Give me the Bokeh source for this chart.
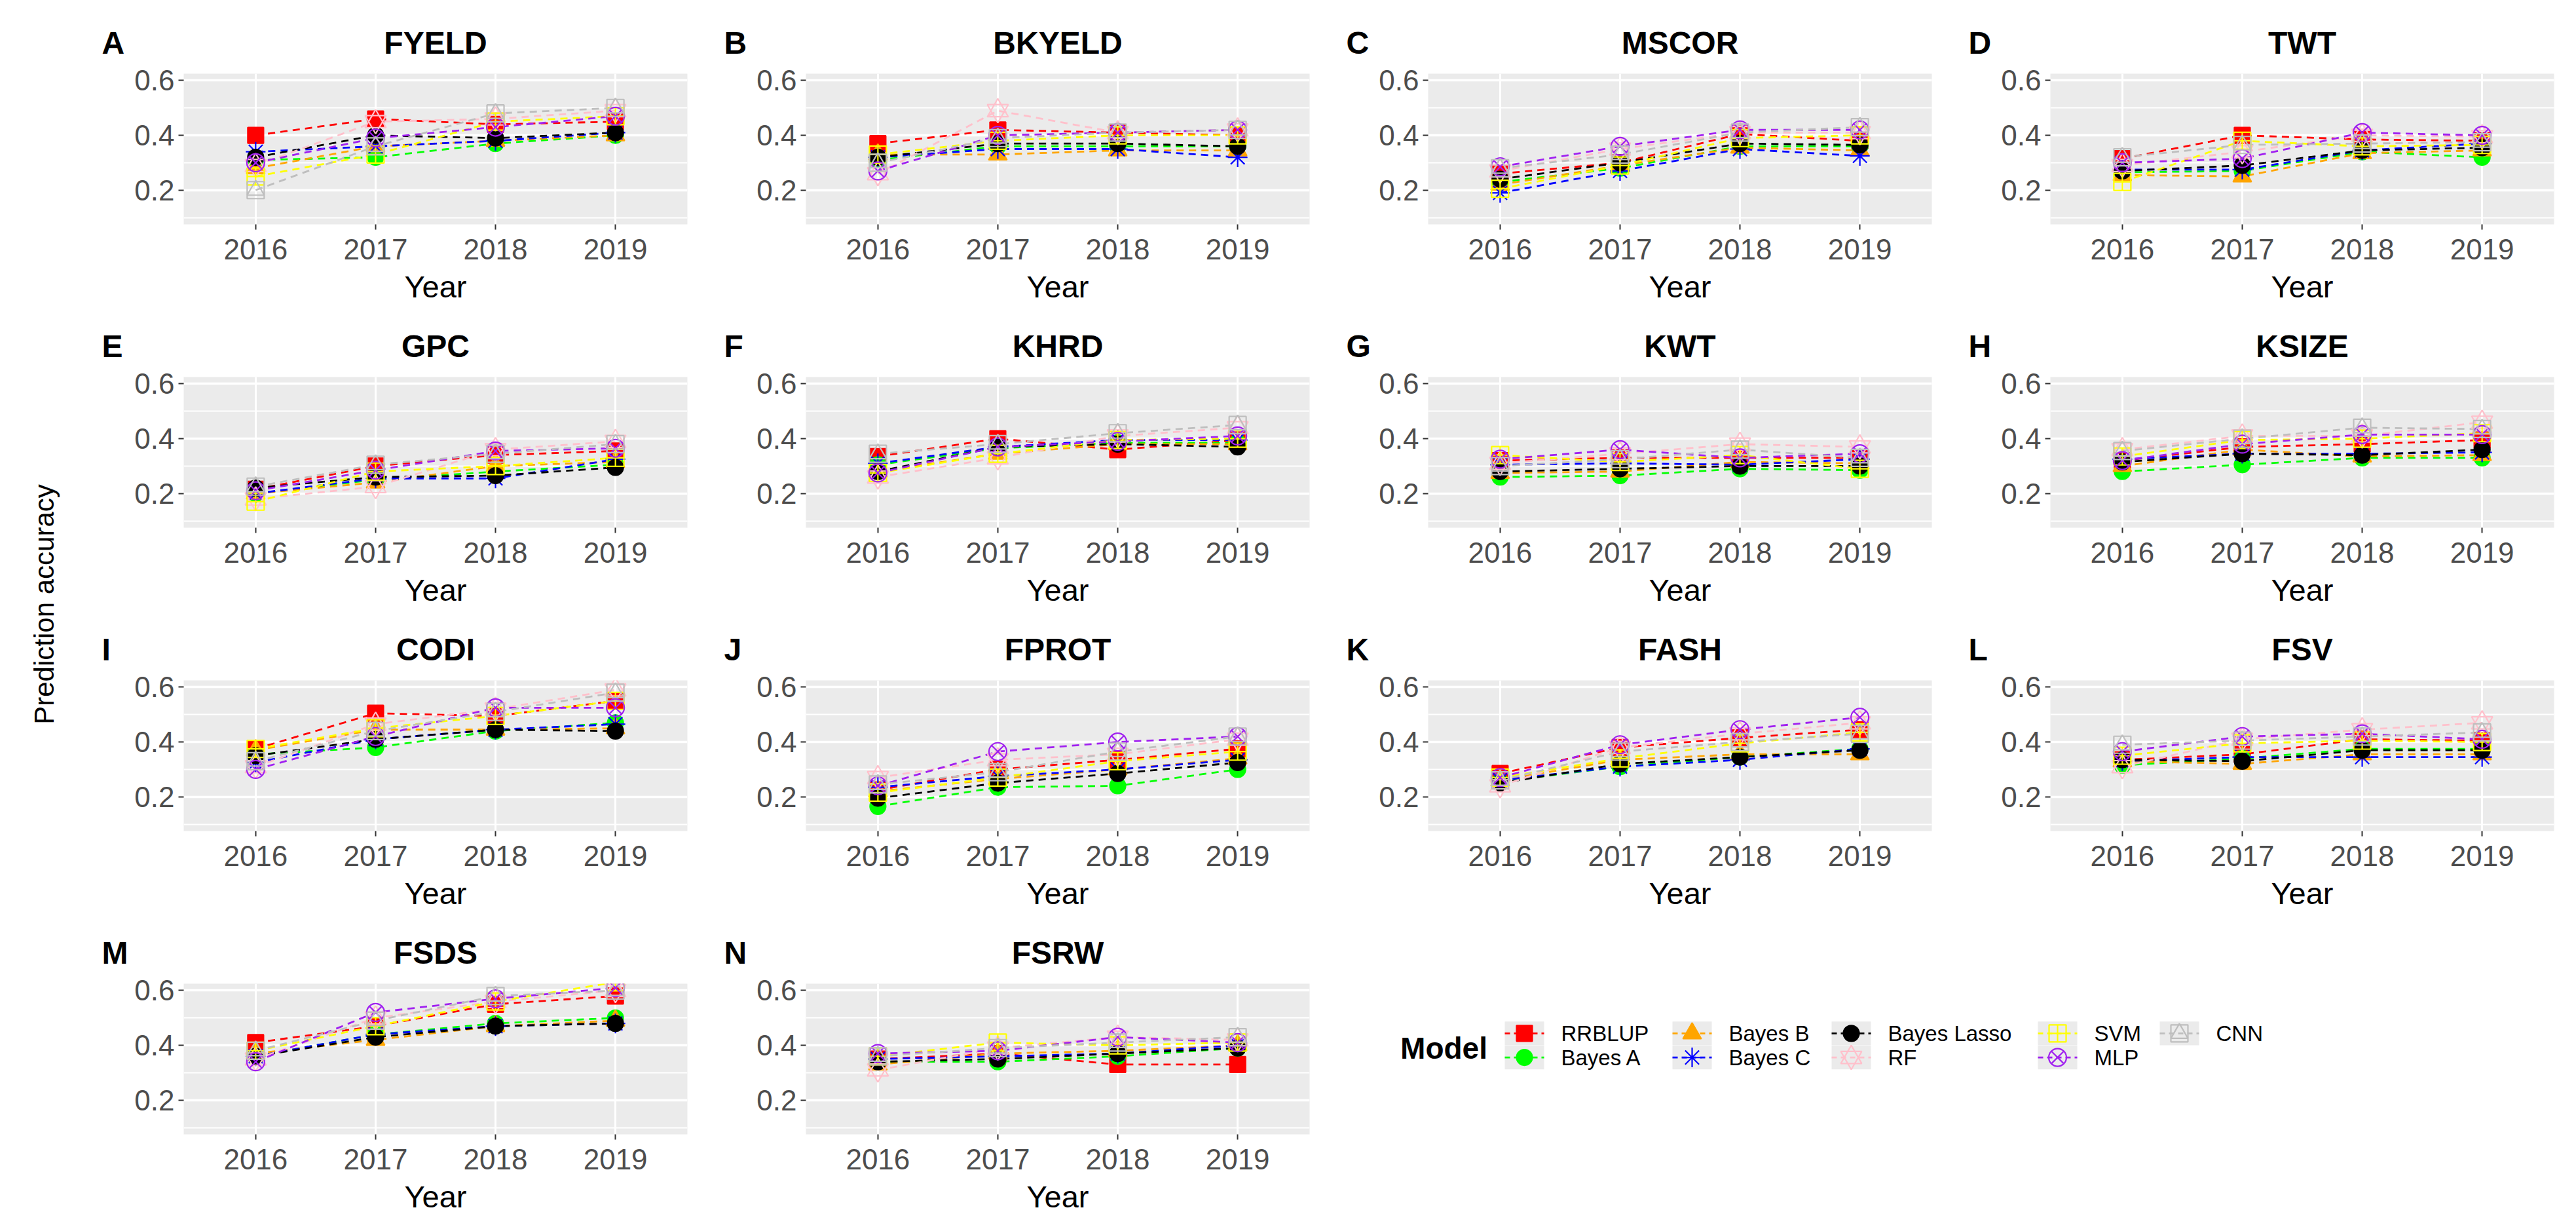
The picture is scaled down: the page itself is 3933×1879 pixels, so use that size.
import math
from bokeh.plotting import figure
from bokeh.layouts import row, column
from bokeh.models import Range1d, FixedTicker, Label
from bokeh.embed import file_html
from bokeh.resources import INLINE

# ---------------- data ----------------
years = [2016, 2017, 2018, 2019]
models = ["RRBLUP", "Bayes A", "Bayes B", "Bayes C", "Bayes Lasso", "RF", "SVM", "MLP", "CNN"]
colors = ["#FF0000", "#00FF00", "#FFA500", "#0000FF", "#000000", "#FFC0CB", "#FFFF00", "#A020F0", "#BEBEBE"]
traits = ["FYELD", "BKYELD", "MSCOR", "TWT", "GPC", "KHRD", "KWT", "KSIZE",
          "CODI", "FPROT", "FASH", "FSV", "FSDS", "FSRW"]
letters = ["A", "B", "C", "D", "E", "F", "G", "H", "I", "J", "K", "L", "M", "N"]
y_ticks = [0.2, 0.4, 0.6]
y_minor = [0.1, 0.3, 0.5]

# rows: RRBLUP, Bayes A, Bayes B, Bayes C, Bayes Lasso, RF, SVM, MLP, CNN ; cols: 2016..2019
FYELD = [[0.40, 0.46, 0.44, 0.45], [0.31, 0.32, 0.37, 0.40], [0.28, 0.36, 0.38, 0.40],
         [0.34, 0.36, 0.38, 0.41], [0.32, 0.40, 0.39, 0.41], [0.29, 0.45, 0.46, 0.49],
         [0.25, 0.33, 0.45, 0.47], [0.30, 0.39, 0.43, 0.47], [0.20, 0.36, 0.48, 0.50]]
BKYELD = [[0.37, 0.42, 0.41, 0.40], [0.31, 0.36, 0.36, 0.36], [0.33, 0.33, 0.345, 0.345],
          [0.32, 0.35, 0.35, 0.32], [0.32, 0.37, 0.37, 0.36], [0.26, 0.49, 0.41, 0.42],
          [0.33, 0.38, 0.40, 0.40], [0.27, 0.40, 0.41, 0.42], [0.30, 0.39, 0.41, 0.42]]
MSCOR = [[0.26, 0.30, 0.405, 0.38], [0.23, 0.28, 0.36, 0.36], [0.22, 0.29, 0.355, 0.345],
         [0.19, 0.27, 0.35, 0.325], [0.24, 0.30, 0.37, 0.365], [0.27, 0.35, 0.41, 0.41],
         [0.205, 0.29, 0.39, 0.40], [0.285, 0.36, 0.42, 0.42], [0.28, 0.33, 0.41, 0.43]]
TWT = [[0.315, 0.40, 0.385, 0.38], [0.265, 0.27, 0.34, 0.32], [0.255, 0.25, 0.335, 0.345],
       [0.275, 0.275, 0.345, 0.37], [0.27, 0.29, 0.345, 0.355], [0.29, 0.34, 0.40, 0.395],
       [0.23, 0.38, 0.36, 0.365], [0.30, 0.315, 0.41, 0.40], [0.32, 0.365, 0.37, 0.375]]
GPC = [[0.215, 0.30, 0.34, 0.355], [0.20, 0.25, 0.28, 0.305], [0.20, 0.24, 0.30, 0.315],
       [0.20, 0.255, 0.255, 0.325], [0.22, 0.26, 0.265, 0.295], [0.18, 0.225, 0.36, 0.39],
       [0.17, 0.28, 0.30, 0.33], [0.21, 0.285, 0.355, 0.365], [0.225, 0.305, 0.345, 0.38]]
KHRD = [[0.335, 0.40, 0.36, 0.395], [0.305, 0.365, 0.385, 0.385], [0.28, 0.345, 0.38, 0.38],
        [0.31, 0.37, 0.395, 0.395], [0.28, 0.37, 0.38, 0.37], [0.26, 0.33, 0.41, 0.44],
        [0.275, 0.345, 0.395, 0.40], [0.275, 0.37, 0.39, 0.41], [0.345, 0.38, 0.42, 0.45]]
KWT = [[0.32, 0.33, 0.33, 0.33], [0.26, 0.265, 0.29, 0.285], [0.275, 0.28, 0.315, 0.31],
       [0.305, 0.31, 0.305, 0.325], [0.28, 0.29, 0.30, 0.30], [0.31, 0.345, 0.38, 0.37],
       [0.34, 0.315, 0.34, 0.29], [0.325, 0.36, 0.33, 0.345], [0.30, 0.325, 0.36, 0.33]]
KSIZE = [[0.32, 0.37, 0.38, 0.395], [0.28, 0.305, 0.33, 0.33], [0.30, 0.36, 0.335, 0.34],
         [0.325, 0.345, 0.345, 0.35], [0.315, 0.345, 0.34, 0.36], [0.36, 0.41, 0.41, 0.46],
         [0.335, 0.395, 0.40, 0.42], [0.32, 0.38, 0.415, 0.415], [0.355, 0.40, 0.44, 0.435]]
CODI = [[0.375, 0.505, 0.495, 0.55], [0.355, 0.38, 0.44, 0.47], [0.37, 0.445, 0.445, 0.45],
        [0.325, 0.41, 0.445, 0.465], [0.35, 0.41, 0.445, 0.44], [0.31, 0.465, 0.52, 0.59],
        [0.375, 0.45, 0.495, 0.55], [0.30, 0.42, 0.525, 0.525], [0.33, 0.44, 0.51, 0.58]]
FPROT = [[0.225, 0.30, 0.335, 0.375], [0.165, 0.235, 0.24, 0.30], [0.22, 0.265, 0.30, 0.34],
         [0.235, 0.275, 0.30, 0.335], [0.195, 0.25, 0.285, 0.325], [0.27, 0.335, 0.355, 0.41],
         [0.215, 0.27, 0.33, 0.365], [0.24, 0.365, 0.40, 0.42], [0.245, 0.29, 0.365, 0.42]]
FASH = [[0.285, 0.38, 0.415, 0.445], [0.255, 0.31, 0.345, 0.375], [0.26, 0.335, 0.355, 0.355],
        [0.26, 0.31, 0.335, 0.375], [0.25, 0.32, 0.345, 0.37], [0.24, 0.38, 0.43, 0.47],
        [0.27, 0.34, 0.395, 0.435], [0.27, 0.39, 0.445, 0.49], [0.26, 0.365, 0.40, 0.43]]
FSV = [[0.335, 0.355, 0.41, 0.405], [0.315, 0.34, 0.375, 0.375], [0.33, 0.32, 0.355, 0.355],
       [0.33, 0.345, 0.345, 0.345], [0.335, 0.33, 0.37, 0.37], [0.31, 0.41, 0.445, 0.47],
       [0.35, 0.395, 0.405, 0.40], [0.365, 0.42, 0.43, 0.41], [0.39, 0.405, 0.42, 0.435]]
FSDS = [[0.41, 0.47, 0.55, 0.58], [0.36, 0.44, 0.48, 0.50], [0.37, 0.42, 0.47, 0.49],
        [0.36, 0.44, 0.47, 0.48], [0.36, 0.43, 0.47, 0.48], [0.35, 0.50, 0.56, 0.60],
        [0.38, 0.47, 0.56, 0.63], [0.34, 0.52, 0.57, 0.61], [0.38, 0.49, 0.58, 0.60]]
FSRW = [[0.35, 0.37, 0.33, 0.33], [0.34, 0.34, 0.36, 0.39], [0.33, 0.37, 0.38, 0.40],
        [0.35, 0.36, 0.37, 0.40], [0.34, 0.35, 0.37, 0.39], [0.31, 0.39, 0.43, 0.42],
        [0.36, 0.41, 0.40, 0.41], [0.37, 0.38, 0.43, 0.41], [0.36, 0.39, 0.41, 0.43]]

trait_data = [FYELD, BKYELD, MSCOR, TWT, GPC, KHRD, KWT, KSIZE, CODI, FPROT, FASH, FSV, FSDS, FSRW]

# ---------------- style / layout ----------------
FONT = "Liberation Sans"
PANEL_BG = "#EBEBEB"
DASH = "11 8"
MARKS = [
    [("square", True, 24)],
    [("circle", True, 24)],
    [("triangle", True, 28)],
    [("asterisk", False, 30)],
    [("circle", True, 24)],
    [("triangle", False, 32), ("inverted_triangle", False, 32)],
    [("square_cross", False, 26)],
    [("circle_x", False, 27)],
    [("square", False, 26), ("triangle", False, 26)],
]

FRAME_W, FRAME_H = 769, 230
PAGE_X0, PAGE_X1 = 108, 3925          # panel area (after the y-label strip)
FRAME_LEFT = [288, 1238, 2188, 3138]  # page x of each column's plotting area
HEADER_Y = [(8, 100), (490, 563), (953, 1026), (1416, 1489)]
TITLE_Y = [73, 536, 999, 1462]
TOP_B = 20
BOTTOM_B = [140, 140, 140, 132]


def draw_marker(p, k, xs, ys, scale=1.0):
    for mk, filled, size in MARKS[k]:
        p.scatter(xs, ys, marker=mk, size=size * scale,
                  fill_color=colors[k] if filled else None,
                  line_color=colors[k], line_width=2.2)


def make_panel(i, r, c):
    ml = 180 if c == 0 else 138
    mr = 43 if c < 3 else 18
    p = figure(frame_width=FRAME_W, frame_height=FRAME_H,
               min_border_left=ml, min_border_right=mr,
               min_border_top=TOP_B, min_border_bottom=BOTTOM_B[r],
               x_range=Range1d(2015.4, 2019.6), y_range=Range1d(0.075, 0.625),
               output_backend="svg", toolbar_location=None, tools="")
    p.background_fill_color = PANEL_BG
    p.border_fill_color = "white"
    p.outline_line_color = None

    p.xaxis.ticker = FixedTicker(ticks=years)
    p.yaxis.ticker = FixedTicker(ticks=y_ticks, minor_ticks=y_minor)
    for ax in (p.xaxis[0], p.yaxis[0]):
        ax.axis_line_color = None
        ax.major_tick_in = 0
        ax.major_tick_out = 8
        ax.major_tick_line_color = "#333333"
        ax.major_tick_line_width = 2
        ax.minor_tick_line_color = None
        ax.major_label_text_font = FONT
        ax.major_label_text_font_size = "44px"
        ax.major_label_text_color = "#4D4D4D"
    p.yaxis.major_label_standoff = 6
    p.xaxis.major_label_standoff = 14
    p.xaxis.axis_label = "Year"
    p.xaxis.axis_label_text_font = FONT
    p.xaxis.axis_label_text_font_size = "47px"
    p.xaxis.axis_label_text_font_style = "normal"
    p.xaxis.axis_label_text_color = "black"
    p.xaxis.axis_label_standoff = 12

    p.xgrid.grid_line_color = "white"
    p.xgrid.grid_line_width = 3
    p.ygrid.grid_line_color = "white"
    p.ygrid.grid_line_width = 3.5
    p.ygrid.minor_grid_line_color = "white"
    p.ygrid.minor_grid_line_width = 1.8

    data = trait_data[i]
    for k in range(len(models)):
        p.line(years, data[k], line_color=colors[k], line_width=2.8, line_dash=DASH)
    for k in range(len(models)):
        draw_marker(p, k, years, data[k])
    return p


def make_header(r):
    y0, y1 = HEADER_Y[r]
    h = figure(width=PAGE_X1 - PAGE_X0, height=y1 - y0, x_range=Range1d(PAGE_X0, PAGE_X1),
               y_range=Range1d(y1, y0), output_backend="svg", toolbar_location=None,
               tools="", min_border=0, x_axis_location=None, y_axis_location=None)
    h.grid.visible = False
    h.outline_line_color = None
    for c in range(4):
        i = r * 4 + c
        if i >= len(traits):
            break
        h.add_layout(Label(x=FRAME_LEFT[c] + FRAME_W / 2, y=TITLE_Y[r], text=traits[i],
                           text_font=FONT, text_font_size="48px", text_font_style="bold",
                           text_align="center", text_baseline="middle", text_color="black"))
        h.add_layout(Label(x=FRAME_LEFT[c] - 125, y=TITLE_Y[r], text=letters[i],
                           text_font=FONT, text_font_size="48px", text_font_style="bold",
                           text_align="left", text_baseline="middle", text_color="black"))
    return h


panels = []
for i in range(len(traits)):
    r, c = divmod(i, 4)
    panels.append(make_panel(i, r, c))

# ---------------- legend (cols 3-4 of last row) ----------------
LX0, LX1, LY0, LY1 = 2050, 3925, 1489, 1871
leg = figure(width=LX1 - LX0, height=LY1 - LY0, x_range=Range1d(LX0, LX1),
             y_range=Range1d(LY1, LY0), output_backend="svg", toolbar_location=None,
             tools="", min_border=0, x_axis_location=None, y_axis_location=None)
leg.grid.visible = False
leg.outline_line_color = None
leg.background_fill_color = "white"
leg.border_fill_color = "white"

key_cx = [2335, 2591, 2834, 3149, 3335]
key_cy = [1615, 1676]
KEY = 60
for k, name in enumerate(models):
    cx = key_cx[k // 2]
    cy = key_cy[k % 2]
    leg.rect([cx], [cy], width=KEY, height=KEY, fill_color=PANEL_BG, line_color=None)
    leg.line([cx - KEY / 2, cx + KEY / 2], [cy, cy], line_color=colors[k], line_width=2.8,
             line_dash="8 6")
    draw_marker(leg, k, [cx], [cy], scale=1.0)
    leg.add_layout(Label(x=cx + KEY / 2 + 26, y=cy, text=name, text_font=FONT,
                         text_font_size="33px", text_align="left", text_baseline="middle",
                         text_color="black"))
leg.add_layout(Label(x=2212, y=1652, text="Model", text_font=FONT,
                     text_font_size="46px", text_font_style="bold", text_align="center",
                     text_baseline="middle", text_color="black"))

# ---------------- global y label ----------------
ylab = figure(width=100, height=1863, x_range=Range1d(0, 100), y_range=Range1d(0, 1863),
              output_backend="svg", toolbar_location=None, tools="", min_border=0,
              x_axis_location=None, y_axis_location=None)
ylab.grid.visible = False
ylab.outline_line_color = None
ylab.add_layout(Label(x=67, y=941, text="Prediction accuracy", angle=math.pi / 2,
                      text_font=FONT, text_font_size="42px", text_align="center",
                      text_baseline="middle", text_color="black"))

grid = column(make_header(0), row(*panels[0:4]),
              make_header(1), row(*panels[4:8]),
              make_header(2), row(*panels[8:12]),
              make_header(3), row(panels[12], panels[13], leg))
layout = row(ylab, grid)

open("out.html", "w").write(file_html(layout, INLINE))
